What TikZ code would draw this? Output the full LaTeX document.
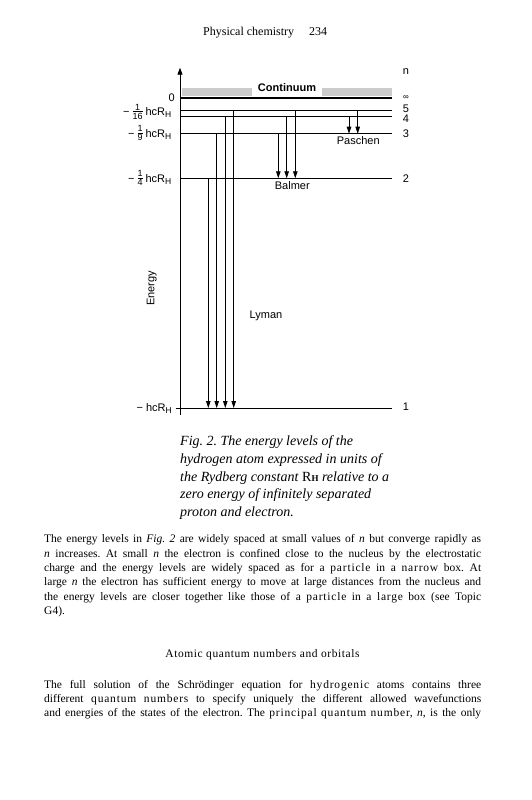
\documentclass[tikz,border=0pt]{standalone}
\usepackage{fontspec}
\setmainfont{Liberation Serif}
\newfontfamily\dsans{Liberation Sans}
\usetikzlibrary{arrows.meta}
\newcommand\hfr[2]{$\vcenter{\hbox{\fontsize{9}{9}\selectfont\begin{tabular}{@{}c@{}}#1\\[-1.5pt]\hline\rule{0pt}{7.5pt}#2\end{tabular}}}$}
\newcommand\Hsub{\raisebox{-0.35ex}{\fontsize{8.5}{8.5}\selectfont H}}
\newcommand\lsp[1]{{\addfontfeature{LetterSpace=7}#1}}
\newcommand\jline[1]{\makebox[437pt][s]{#1}}
\frenchspacing
\begin{document}
\frenchspacing
\begin{tikzpicture}[x=1pt,y=-1pt,
  lab/.style={font=\dsans\fontsize{11}{11}\selectfont, inner sep=0pt},
  lvl/.style={line width=0.9pt},
  arr/.style={line width=0.8pt,-{Triangle[length=7pt,width=4.5pt]}},
  body/.style={font=\fontsize{11.5}{13}\selectfont, inner sep=0pt, anchor=base west},
  captxt/.style={font=\itshape\fontsize{14}{16}\selectfont, inner sep=0pt, anchor=base west}]
\fill[white] (0,0) rectangle (531,800);
\useasboundingbox (0,0) rectangle (531,800);

% header
\node[body, font=\fontsize{12}{14}\selectfont] (hdr) at (203,36) {Physical chemistry\hspace{15pt}234};

% continuum band
\fill[black!20] (181.7,87.7) rectangle (391.7,96);
\fill[white] (252,81) rectangle (322,96.5);
\node[lab, font=\dsans\bfseries\fontsize{11}{11}\selectfont] (cont) at (287,88) {Continuum};

% axis
\coordinate (ax0) at (180,415);
\coordinate (ax1) at (180,67.7);
\draw[line width=0.9pt, -{Triangle[length=7pt,width=5pt]}] (ax0) -- (ax1);

% levels
\coordinate (lv0) at (180,98.3);  \coordinate (lv0r) at (391.7,98.3);
\coordinate (lv5) at (180,110.7); \coordinate (lv5r) at (391.7,110.7);
\coordinate (lv4) at (180,116);   \coordinate (lv4r) at (391.7,116);
\coordinate (lv3) at (180,133.7); \coordinate (lv3r) at (391.7,133.7);
\coordinate (lv2) at (180,178.3); \coordinate (lv2r) at (391.7,178.3);
\coordinate (lv1) at (180,408);   \coordinate (lv1r) at (391.7,408);
\coordinate (tick) at (175.5,408);
\draw[line width=1.8pt] (lv0) -- (lv0r);
\draw[lvl] (lv5) -- (lv5r);
\draw[lvl] (lv4) -- (lv4r);
\draw[lvl] (lv3) -- (lv3r);
\draw[lvl] (lv2) -- (lv2r);
\draw[lvl] (tick) -- (lv1r);

% transition x positions
\coordinate (ly2) at (208.3,0);
\coordinate (ly3) at (216.7,0);
\coordinate (ly4) at (225.3,0);
\coordinate (ly5) at (233.7,0);
\coordinate (ba3) at (278.3,0);
\coordinate (ba4) at (286.7,0);
\coordinate (ba5) at (295.3,0);
\coordinate (pa4) at (349,0);
\coordinate (pa5) at (357.7,0);

% Lyman
\draw[arr] (ly2 |- lv2) -- (ly2 |- lv1);
\draw[arr] (ly3 |- lv3) -- (ly3 |- lv1);
\draw[arr] (ly4 |- lv4) -- (ly4 |- lv1);
\draw[arr] (ly5 |- lv5) -- (ly5 |- lv1);
% Balmer
\draw[arr] (ba3 |- lv3) -- (ba3 |- lv2);
\draw[arr] (ba4 |- lv4) -- (ba4 |- lv2);
\draw[arr] (ba5 |- lv5) -- (ba5 |- lv2);
% Paschen
\draw[arr] (pa4 |- lv4) -- (pa4 |- lv3);
\draw[arr] (pa5 |- lv5) -- (pa5 |- lv3);

% series labels
\node[lab] (bal) at (292.3,186) {Balmer};
\node[lab] (pas) at (358.3,141) {Paschen};
\node[lab] (lym) at (266,316) {Lyman};
\node[lab, rotate=90] (en) at (151.7,288.3) {Energy};

% left labels
\node[lab] (e0) at (171.7,97.5) {0};
\node[lab, anchor=east] (e5) at (171.5,113) {−\hspace{3pt}\hfr{1}{16}\hspace{3pt}hcR\Hsub};
\node[lab, anchor=east] (e3) at (171.5,134.5) {−\hspace{3pt}\hfr{1}{9}\hspace{3pt}hcR\Hsub};
\node[lab, anchor=east] (e2) at (171.5,179.5) {−\hspace{3pt}\hfr{1}{4}\hspace{3pt}hcR\Hsub};
\node[lab, anchor=east] (e1) at (172,408.5) {−\hspace{3pt}hcR\Hsub};

% right labels
\node[lab] (nn) at (406,71.7) {n};
\node[lab, font=\dsans\fontsize{8}{8}\selectfont] (ninf) at (406,97.7) {∞};
\node[lab] (n5) at (406,108.5) {5};
\node[lab] (n4) at (406,118.5) {4};
\node[lab] (n3) at (406,134) {3};
\node[lab] (n2) at (406,178.3) {2};
\node[lab] (n1) at (406,407) {1};

% caption
\node[captxt] (c1) at (180,445) {Fig. 2. The energy levels of the};
\node[captxt] (c2) at (180,463) {hydrogen atom expressed in units of};
\node[captxt] (c3) at (180,481) {the Rydberg constant \textup{R}{\upshape\bfseries\fontsize{9}{9}\selectfont H} relative to a};
\node[captxt] (c4) at (180,498.5) {zero energy of infinitely separated};
\node[captxt] (c5) at (180,516.5) {proton and electron.};

% paragraph 1
\node[body] (p1) at (44,542.7) {\jline{The energy levels in \textit{Fig. 2} are widely spaced at small values of \textit{n} but converge rapidly as}};
\node[body] (p2) at (44,557) {\jline{\textit{n} increases. At small \textit{n} the electron is confined close to the nucleus by the electrostatic}};
\node[body] (p3) at (44,571.3) {\jline{charge and the energy levels are widely spaced as for a \lsp{particle} in a \lsp{narrow} box. At}};
\node[body] (p4) at (44,585.6) {\jline{large \textit{n} the electron has sufficient energy to move at large distances from the nucleus and}};
\node[body] (p5) at (44,600) {\jline{the energy levels are closer together like those of a \lsp{particle} in a \lsp{large} box (see Topic}};
\node[body] (p6) at (44,614) {G4).};

% heading
\node[body, anchor=base, font=\fontsize{11.5}{13}\selectfont\addfontfeature{LetterSpace=5}] (hd) at (262.5,657.3) {Atomic quantum numbers and orbitals};

% paragraph 2
\node[body] (q1) at (44,688.3) {\jline{The full solution of the Schrödinger equation for \lsp{hydrogenic} atoms contains three}};
\node[body] (q2) at (44,702.2) {\jline{different \lsp{quantum} \lsp{numbers} to specify uniquely the different allowed wavefunctions}};
\node[body] (q3) at (44,716) {\jline{and energies of the states of the electron. The \lsp{principal} \lsp{quantum} \lsp{number}, \textit{n}, is the only}};
\end{tikzpicture}
\end{document}
